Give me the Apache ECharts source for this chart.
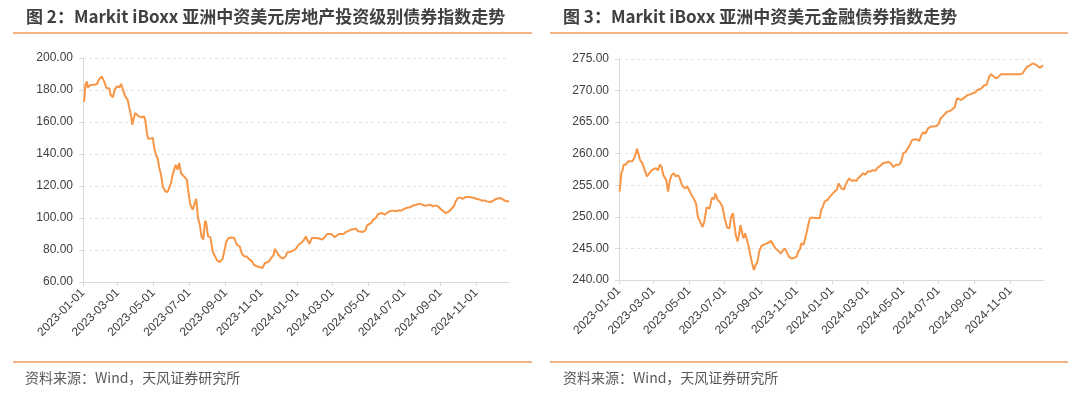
<!DOCTYPE html>
<html>
<head>
<meta charset="utf-8">
<script src="https://cdn.jsdelivr.net/npm/echarts@6/dist/echarts.min.js"></script>
<style>
html,body{margin:0;padding:0;background:#fff;}
#c{width:1080px;height:399px;}
</style>
</head>
<body>
<div id="c"></div>
<script>
// ---------- DATA ----------
const titleLeft = '图 2：Markit iBoxx 亚洲中资美元房地产投资级别债券指数走势';
const titleRight = '图 3：Markit iBoxx 亚洲中资美元金融债券指数走势';
const sourceText = '资料来源：Wind，天风证券研究所';

const tickDates = ['2023-01-01','2023-03-01','2023-05-01','2023-07-01','2023-09-01','2023-11-01',
  '2024-01-01','2024-03-01','2024-05-01','2024-07-01','2024-09-01','2024-11-01'];
const axisStart = '2023-01-01';
const axisEnd = '2024-12-27';

const leftTicks = [60, 80, 100, 120, 140, 160, 180, 200];
const rightTicks = [240, 245, 250, 255, 260, 265, 270, 275];

const realEstateDates = ['2023-01-03','2023-01-05','2023-01-08','2023-01-09','2023-01-13','2023-01-19','2023-01-25','2023-01-28',
'2023-02-02','2023-02-04','2023-02-06','2023-02-10','2023-02-15','2023-02-17','2023-02-21','2023-02-24','2023-02-28',
'2023-03-04','2023-03-07','2023-03-10','2023-03-14','2023-03-18','2023-03-21','2023-03-24','2023-03-26','2023-03-28','2023-03-31',
'2023-04-03','2023-04-06','2023-04-11','2023-04-15','2023-04-17','2023-04-20','2023-04-22','2023-04-26','2023-04-30',
'2023-05-02','2023-05-05','2023-05-08','2023-05-11','2023-05-14','2023-05-17','2023-05-21','2023-05-25','2023-05-28','2023-05-31',
'2023-06-02','2023-06-05','2023-06-08','2023-06-11','2023-06-14','2023-06-17','2023-06-22','2023-06-27','2023-06-29',
'2023-07-03','2023-07-07','2023-07-10','2023-07-13','2023-07-16','2023-07-19','2023-07-22','2023-07-25','2023-07-28','2023-07-30',
'2023-08-02','2023-08-06','2023-08-10','2023-08-14','2023-08-18','2023-08-22','2023-08-27','2023-08-31',
'2023-09-02','2023-09-06','2023-09-12','2023-09-16','2023-09-20','2023-09-25','2023-09-29',
'2023-10-03','2023-10-07','2023-10-10','2023-10-16','2023-10-19','2023-10-24','2023-10-30',
'2023-11-03','2023-11-07','2023-11-13','2023-11-17','2023-11-22','2023-11-24','2023-11-27','2023-11-30',
'2023-12-04','2023-12-08','2023-12-12','2023-12-15','2023-12-20','2023-12-25','2023-12-30',
'2024-01-03','2024-01-09','2024-01-13','2024-01-16','2024-01-18','2024-01-22','2024-01-26','2024-01-30',
'2024-02-03','2024-02-09','2024-02-13','2024-02-17','2024-02-21','2024-02-28',
'2024-03-02','2024-03-05','2024-03-08','2024-03-12','2024-03-20','2024-03-24','2024-03-28',
'2024-04-01','2024-04-10','2024-04-14','2024-04-17','2024-04-22','2024-04-27','2024-04-29',
'2024-05-01','2024-05-06','2024-05-10','2024-05-14','2024-05-18','2024-05-21','2024-05-25','2024-05-29',
'2024-06-02','2024-06-06','2024-06-12','2024-06-18','2024-06-22','2024-06-26','2024-06-29',
'2024-07-05','2024-07-11','2024-07-16','2024-07-22','2024-07-28',
'2024-08-01','2024-08-05','2024-08-11','2024-08-15','2024-08-19','2024-08-24','2024-08-28',
'2024-09-01','2024-09-05','2024-09-10','2024-09-12','2024-09-16','2024-09-20','2024-09-24','2024-09-27',
'2024-10-01','2024-10-05','2024-10-09','2024-10-14','2024-10-18','2024-10-24','2024-10-29',
'2024-11-02','2024-11-07','2024-11-11','2024-11-15','2024-11-19','2024-11-25','2024-11-30',
'2024-12-05','2024-12-11','2024-12-15','2024-12-17','2024-12-22','2024-12-27'];
const realEstateValues = [172.5,183.3,185.4,181.3,183.0,183.3,183.8,186.5,
188.5,189.2,185.4,181.3,181.0,177.0,175.4,180.2,182.3,
181.7,183.8,180.2,176.0,174.0,168.8,163.5,158.3,161.5,165.6,
166.3,163.5,163.0,163.5,161.5,153.0,149.6,149.6,150.0,
144.8,139.6,137.5,131.3,127.0,119.8,116.7,116.3,118.8,121.9,
126.0,125.0,133.3,130.2,134.4,128.0,126.0,124.0,117.7,
108.3,105.2,106.3,112.0,100.0,95.8,88.5,86.5,98.3,96.9,
88.5,88.0,79.2,76.0,73.3,72.5,74.6,81.3,
85.0,87.5,87.8,87.5,83.3,82.3,77.5,
76.0,76.0,74.6,72.9,70.8,69.8,69.2,
68.8,71.9,72.5,74.6,77.0,80.6,80.6,77.0,
75.4,74.6,76.0,78.5,78.8,79.6,80.8,
83.3,84.8,86.5,88.5,86.5,83.8,87.5,87.5,
87.5,87.0,86.5,88.0,90.0,90.0,
89.2,88.0,89.2,90.0,90.0,91.3,91.7,
92.7,93.3,91.7,90.6,91.3,92.7,95.4,
96.5,97.0,99.0,100.0,102.5,103.1,103.1,102.1,
103.1,104.2,104.6,104.2,104.8,104.6,105.6,
106.3,106.7,107.7,108.3,109.0,
108.3,107.7,107.9,108.3,107.3,107.9,107.3,
105.8,104.6,103.1,104.2,104.2,105.8,107.3,110.4,
112.5,112.9,112.0,113.1,113.1,112.9,112.5,
111.9,111.5,110.8,111.0,110.4,110.0,110.8,
111.9,112.5,112.0,110.8,110.4,110.4];

const financialDates = ['2023-01-02','2023-01-05','2023-01-07','2023-01-09','2023-01-13','2023-01-17','2023-01-20','2023-01-24','2023-01-28',
'2023-02-01','2023-02-03','2023-02-06','2023-02-10','2023-02-14','2023-02-18','2023-02-21','2023-02-26',
'2023-03-01','2023-03-05','2023-03-09','2023-03-12','2023-03-15','2023-03-18','2023-03-21','2023-03-23','2023-03-26','2023-03-29',
'2023-04-01','2023-04-05','2023-04-08','2023-04-12','2023-04-15','2023-04-19','2023-04-24','2023-04-28',
'2023-05-01','2023-05-05','2023-05-09','2023-05-13','2023-05-16','2023-05-20','2023-05-24','2023-05-27','2023-05-31',
'2023-06-05','2023-06-09','2023-06-13','2023-06-15','2023-06-19','2023-06-23','2023-06-27',
'2023-07-01','2023-07-05','2023-07-09','2023-07-12','2023-07-15','2023-07-17','2023-07-20','2023-07-23','2023-07-26','2023-07-28','2023-07-31',
'2023-08-02','2023-08-05','2023-08-08','2023-08-11','2023-08-14','2023-08-17','2023-08-20','2023-08-23','2023-08-26','2023-08-29',
'2023-09-02','2023-09-06','2023-09-12','2023-09-18','2023-09-22','2023-09-26','2023-09-30',
'2023-10-05','2023-10-08','2023-10-12','2023-10-15','2023-10-19','2023-10-23','2023-10-28',
'2023-11-01','2023-11-04','2023-11-07','2023-11-09','2023-11-13','2023-11-15','2023-11-18','2023-11-21','2023-11-24','2023-11-28',
'2023-12-02','2023-12-07','2023-12-11','2023-12-13','2023-12-16','2023-12-19','2023-12-24','2023-12-28',
'2024-01-01','2024-01-05','2024-01-09','2024-01-12','2024-01-14','2024-01-17','2024-01-21','2024-01-25','2024-01-30',
'2024-02-03','2024-02-07','2024-02-12','2024-02-14','2024-02-18','2024-02-23','2024-02-27',
'2024-03-02','2024-03-07','2024-03-11','2024-03-15','2024-03-19','2024-03-24','2024-03-28',
'2024-04-02','2024-04-06','2024-04-10','2024-04-15','2024-04-19','2024-04-25','2024-04-28',
'2024-05-02','2024-05-06','2024-05-09','2024-05-13','2024-05-17','2024-05-20','2024-05-25','2024-05-29',
'2024-06-02','2024-06-05','2024-06-09','2024-06-13','2024-06-18','2024-06-23','2024-06-28',
'2024-07-02','2024-07-04','2024-07-07','2024-07-11','2024-07-15','2024-07-19','2024-07-23','2024-07-26','2024-07-29','2024-07-31',
'2024-08-02','2024-08-05','2024-08-09','2024-08-12','2024-08-16','2024-08-20','2024-08-25','2024-08-29',
'2024-09-02','2024-09-06','2024-09-09','2024-09-12','2024-09-15','2024-09-17','2024-09-21','2024-09-23','2024-09-26','2024-09-29',
'2024-10-02','2024-10-04','2024-10-08','2024-10-12','2024-10-16','2024-10-20','2024-10-25','2024-10-29',
'2024-11-01','2024-11-03','2024-11-06','2024-11-09','2024-11-13','2024-11-18','2024-11-22','2024-11-26','2024-11-30',
'2024-12-05','2024-12-09','2024-12-12','2024-12-15','2024-12-18','2024-12-22','2024-12-25','2024-12-27'];
const financialValues = [254.0,256.9,257.4,258.2,258.3,258.8,258.5,258.8,259.5,
260.8,260.6,259.0,258.5,257.4,256.4,256.1,257.4,
257.2,257.7,257.4,258.3,257.9,256.6,256.4,255.8,254.0,255.7,
256.6,256.9,256.4,256.6,256.1,255.0,254.5,254.8,
254.5,253.5,252.9,252.1,250.0,249.2,248.4,249.2,251.5,
251.3,253.0,252.8,253.7,252.7,252.3,251.6,
249.8,248.3,248.2,250.0,250.6,249.2,247.1,246.1,247.4,248.7,248.8,
246.6,247.4,247.1,245.3,243.9,242.6,241.6,242.4,242.8,244.5,
245.4,245.6,245.8,246.2,245.6,245.0,244.7,
244.2,244.6,245.0,244.7,243.7,243.4,243.5,
243.7,244.5,244.9,245.8,245.6,246.3,247.4,248.7,249.8,249.9,
249.8,249.8,249.8,251.1,251.6,252.4,252.7,253.2,
253.6,254.0,254.3,255.3,255.5,254.5,254.3,255.3,256.1,
255.7,255.8,255.7,256.1,256.4,256.9,256.7,
257.2,257.2,257.4,257.3,257.8,258.1,258.5,
258.6,258.7,258.5,257.9,258.2,258.3,258.7,
260.1,260.3,260.6,261.4,262.2,262.4,262.3,262.0,
263.0,263.4,263.2,264.0,264.3,264.3,264.4,
264.8,265.5,265.7,266.2,266.6,266.7,266.9,267.2,267.4,268.2,
268.8,268.5,268.5,268.8,269.0,269.3,269.4,269.6,
269.7,270.1,269.8,270.3,270.4,270.8,270.9,271.4,272.2,272.6,
272.5,272.2,271.9,272.2,272.6,272.6,272.6,272.6,
272.4,272.6,272.7,272.6,272.6,272.6,272.7,273.3,273.8,
274.0,274.3,274.0,274.1,273.8,273.6,273.9,274.0];

// ---------- HELPERS ----------
function ts(s){ const p = s.split('-').map(Number); return Date.UTC(p[0], p[1]-1, p[2]); }
function pad(n){ return (n<10?'0':'')+n; }
function fmtDate(v){ const d = new Date(v); return d.getUTCFullYear()+'-'+pad(d.getUTCMonth()+1)+'-'+pad(d.getUTCDate()); }
function pairs(ds, vs){ return ds.map((d,i)=>[ts(d), vs[i]]); }

const LINE = '#F79646';
const RULE = '#F4B183';
const AXIS = '#D9D9D9';
const TXT = '#404040';
const FONT = '"Liberation Sans", Arial, "Noto Sans CJK SC", sans-serif';
const tickTs = tickDates.map(ts);

function xAxisCfg(gi){
  return {
    type:'value', gridIndex:gi, min:ts(axisStart), max:ts(axisEnd), scale:true,
    axisLine:{show:true, lineStyle:{color:AXIS, width:1}},
    axisTick:{show:true, length:4, lineStyle:{color:AXIS}, customValues:tickTs},
    axisLabel:{customValues:tickTs, rotate:45, margin:9, color:TXT, fontSize:12, fontFamily:FONT,
      formatter:function(v){ return fmtDate(v); }, hideOverlap:false, showMinLabel:true, showMaxLabel:true},
    splitLine:{show:false}, minorTick:{show:false}
  };
}
function yAxisCfg(gi, ticks){
  const iv = ticks[1]-ticks[0];
  return {
    type:'value', gridIndex:gi, min:ticks[0], max:ticks[ticks.length-1], interval:iv,
    axisLine:{show:true, lineStyle:{color:AXIS, width:1}},
    axisTick:{show:true, length:4, lineStyle:{color:AXIS}},
    axisLabel:{margin:10, color:TXT, fontSize:12, fontFamily:FONT, formatter:function(v){ return v.toFixed(2); }},
    splitLine:{show:true, lineStyle:{color:'#E4E4E4', type:[3,3], width:1}}
  };
}

const chart = echarts.init(document.getElementById('c'), null, {renderer:'canvas'});
chart.setOption({
  backgroundColor:'#fff',
  animation:false,
  title:[
    {text:titleLeft, left:26, top:8, padding:0, textStyle:{fontSize:17, fontWeight:'bold', color:TXT, fontFamily:'"Noto Sans CJK SC", "Noto Sans", sans-serif'}},
    {text:titleRight, left:563, top:8, padding:0, textStyle:{fontSize:17, fontWeight:'bold', color:TXT, fontFamily:'"Noto Sans CJK SC", "Noto Sans", sans-serif'}},
    {text:sourceText, left:25, top:371, padding:0, textStyle:{fontSize:14, fontWeight:'normal', color:'#595959', fontFamily:'"Noto Sans CJK SC", sans-serif'}},
    {text:sourceText, left:563, top:371, padding:0, textStyle:{fontSize:14, fontWeight:'normal', color:'#595959', fontFamily:'"Noto Sans CJK SC", sans-serif'}}
  ],
  graphic:[
    {type:'line', shape:{x1:13, y1:33, x2:532, y2:33}, style:{stroke:RULE, lineWidth:2}},
    {type:'line', shape:{x1:550, y1:33, x2:1068, y2:33}, style:{stroke:RULE, lineWidth:2}},
    {type:'line', shape:{x1:13, y1:362, x2:532, y2:362}, style:{stroke:RULE, lineWidth:2}},
    {type:'line', shape:{x1:550, y1:362, x2:1068, y2:362}, style:{stroke:RULE, lineWidth:2}}
  ],
  grid:[
    {left:83, right:571, top:58, bottom:117, containLabel:false},
    {left:619, right:37, top:59, bottom:119, containLabel:false}
  ],
  xAxis:[xAxisCfg(0), xAxisCfg(1)],
  yAxis:[yAxisCfg(0, leftTicks), yAxisCfg(1, rightTicks)],
  series:[
    {type:'line', xAxisIndex:0, yAxisIndex:0, data:pairs(realEstateDates, realEstateValues),
      showSymbol:false, lineStyle:{color:LINE, width:2}, itemStyle:{color:LINE}},
    {type:'line', xAxisIndex:1, yAxisIndex:1, data:pairs(financialDates, financialValues),
      showSymbol:false, lineStyle:{color:LINE, width:2}, itemStyle:{color:LINE}}
  ]
});
</script>
</body>
</html>
